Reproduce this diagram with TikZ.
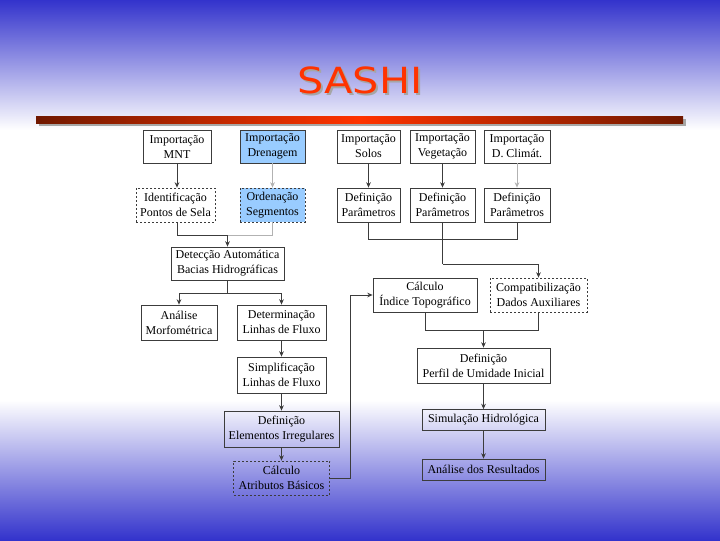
\documentclass[tikz,border=0pt]{standalone}
\usepackage{fontspec}
\setmainfont{Liberation Serif}
\newfontfamily\titlefont{DejaVu Sans}
\usetikzlibrary{arrows.meta}
\definecolor{bgblue}{RGB}{51,51,204}
\definecolor{boxgray}{RGB}{60,60,60}
\definecolor{hlblue}{RGB}{153,204,255}
\definecolor{barred}{RGB}{255,51,0}
\definecolor{bardark}{RGB}{112,24,0}
\tikzstyle{box} = [draw=boxgray, line width=0.6pt, inner sep=0pt, align=center, font=\fontsize{9}{11.25}\selectfont]
\tikzstyle{dbox} = [box, dash pattern={on 1.5pt off 1.5pt}]
\tikzstyle{hlbox} = [fill=hlblue]
\tikzstyle{line} = [draw=boxgray, line width=0.6pt]
\tikzstyle{arrow} = [line, -{Stealth[length=4pt,width=3.5pt]}]

\begin{document}
\begin{tikzpicture}[x=0.75pt,y=0.75pt,yscale=-1,xscale=1]
\useasboundingbox (0,0) rectangle (720,540);

% background
\fill [white] (0,0) rectangle (720,540);
\shade [top color=bgblue, bottom color=white] (0,0) rectangle (720,130);
\shade [top color=white, bottom color=bgblue] (0,400) rectangle (720,540);

% title and bar
\node [text=gray!70, font=\titlefont\fontsize{27}{27}\selectfont, xscale=1.15] at (362,82) {SASHI};
\node (title) [text=barred, font=\titlefont\fontsize{27}{27}\selectfont, xscale=1.15] at (360,80) {SASHI};
\fill [gray!70] (39,119) rectangle (686,126);
\shade [left color=bardark, right color=bardark, middle color=barred] (36,116) rectangle (683,123);

% row 1
\node (mnt) [box, minimum width=51pt, minimum height=24.75pt] at (177,146.5) {Importação\\MNT};
\node (dren) [box, hlbox, minimum width=48.75pt, minimum height=24.75pt] at (272.5,146.5) {Importação\\Drenagem};
\node (solos) [box, minimum width=47.25pt, minimum height=24.75pt] at (368.5,146.5) {Importação\\Solos};
\node (veg) [box, minimum width=48.75pt, minimum height=24.75pt] at (442.5,146.5) {Importação\\Vegetação};
\node (clim) [box, minimum width=49.5pt, minimum height=24.75pt] at (517,146.5) {Importação\\D. Climát.};

% row 2
\node (sela) [dbox, minimum width=59.25pt, minimum height=25.5pt] at (175.5,205) {Identificação\\Pontos de Sela};
\node (seg) [dbox, hlbox, minimum width=48.75pt, minimum height=25.5pt] at (272.5,205) {Ordenação\\Segmentos};
\node (par1) [box, minimum width=47.25pt, minimum height=25.5pt] at (368.5,205) {Definição\\Parâmetros};
\node (par2) [box, minimum width=48.75pt, minimum height=25.5pt] at (442.5,205) {Definição\\Parâmetros};
\node (par3) [box, minimum width=49.5pt, minimum height=25.5pt] at (517,205) {Definição\\Parâmetros};

% left column
\node (bacias) [box, minimum width=84.75pt, minimum height=24.75pt] at (227.5,263.5) {Detecção Automática\\Bacias Hidrográficas};
\node (morfo) [box, minimum width=57pt, minimum height=26.25pt] at (179,322.5) {Análise\\Morfométrica};
\node (fluxo) [box, minimum width=66.75pt, minimum height=26.25pt] at (281.5,322.5) {Determinação\\Linhas de Fluxo};
\node (simpl) [box, minimum width=66.75pt, minimum height=27pt] at (281.5,375) {Simplificação\\Linhas de Fluxo};
\node (irreg) [box, minimum width=86.25pt, minimum height=27pt] at (281.5,429) {Definição\\Elementos Irregulares};
\node (atrib) [dbox, minimum width=72pt, minimum height=25.5pt] at (281.5,478) {Cálculo\\Atributos Básicos};

% right column
\node (topo) [box, minimum width=78pt, minimum height=25.5pt] at (425,295) {Cálculo\\Índice Topográfico};
\node (aux) [dbox, minimum width=72.75pt, minimum height=25.5pt] at (538.5,295) {Compatibilização\\Dados Auxiliares};
\node (perfil) [box, minimum width=99.75pt, minimum height=26.25pt] at (483.5,365.5) {Definição\\Perfil de Umidade Inicial};
\node (simul) [box, minimum width=92.25pt, minimum height=15.75pt] at (483.5,420) {Simulação Hidrológica};
\node (result) [box, minimum width=92.25pt, minimum height=15.75pt] at (483.5,469.5) {Análise dos Resultados};

% junction points
\coordinate (jsela) at (227.5,235);
\coordinate (jbac) at (227.5,293);
\coordinate (jpar) at (442.5,239);
\coordinate (jaux) at (442.5,264);
\coordinate (jtopo) at (483.5,330);
\coordinate (jback) at (350,478);

% connectors
\draw [arrow] (mnt.south) -- (mnt.south |- sela.north);
\draw [arrow, draw=gray!60] (dren.south) -- (seg.north);
\draw [arrow] (solos.south) -- (par1.north);
\draw [arrow] (veg.south) -- (par2.north);
\draw [arrow, draw=gray!60] (clim.south) -- (par3.north);

\draw [line] (mnt.south |- sela.south) |- (jsela);
\draw [line, draw=gray!60] (seg.south) |- (jsela);
\draw [arrow] (jsela) -- (bacias.north);

\draw [line] (bacias.south) -- (jbac);
\draw [arrow] (jbac) -| (morfo.north);
\draw [arrow] (jbac) -| (fluxo.north);
\draw [arrow] (fluxo) -- (simpl);
\draw [arrow] (simpl) -- (irreg);
\draw [arrow] (irreg) -- (atrib);
\draw [arrow] (atrib.east) -- (jback) |- (topo.west);

\draw [line] (par1.south) |- (jpar);
\draw [line] (par3.south) |- (jpar);
\draw [line] (par2.south) -- (jaux);
\draw [arrow] (jaux) -| (aux.north);

\draw [line] (topo.south) |- (jtopo);
\draw [line] (aux.south) |- (jtopo);
\draw [arrow] (jtopo) -- (perfil.north);
\draw [arrow] (perfil) -- (simul);
\draw [arrow] (simul) -- (result);

\end{tikzpicture}
\end{document}
